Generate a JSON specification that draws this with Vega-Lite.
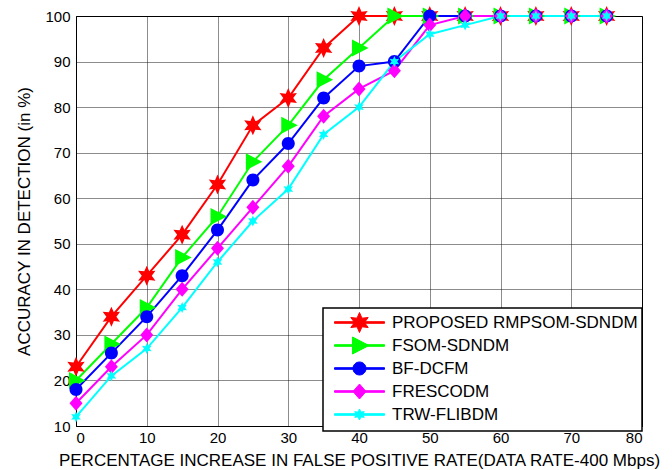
{
  "$schema": "https://vega.github.io/schema/vega-lite/v6.json",
  "width": 566,
  "height": 410,
  "autosize": {"type": "none"},
  "padding": {"left": 76, "top": 16, "right": 30, "bottom": 44},
  "background": "white",
  "config": {
    "font": "Liberation Sans",
    "view": {"stroke": "black", "strokeWidth": 1},
    "legend": {"strokeWidth": 1.5},
    "axis": {
      "labelFont": "Liberation Sans",
      "titleFont": "Liberation Sans",
      "labelFontSize": 15,
      "titleFontSize": 17,
      "titleFontWeight": "normal",
      "labelColor": "black",
      "titleColor": "black",
      "domainColor": "black",
      "domainWidth": 1,
      "ticks": false,
      "gridColor": "#000000",
      "gridOpacity": 0.45,
      "gridWidth": 1
    }
  },
  "data": {
    "values": [
      {"x": 0, "y": 23, "s": "PROPOSED RMPSOM-SDNDM"},
      {"x": 5, "y": 34, "s": "PROPOSED RMPSOM-SDNDM"},
      {"x": 10, "y": 43, "s": "PROPOSED RMPSOM-SDNDM"},
      {"x": 15, "y": 52, "s": "PROPOSED RMPSOM-SDNDM"},
      {"x": 20, "y": 63, "s": "PROPOSED RMPSOM-SDNDM"},
      {"x": 25, "y": 76, "s": "PROPOSED RMPSOM-SDNDM"},
      {"x": 30, "y": 82, "s": "PROPOSED RMPSOM-SDNDM"},
      {"x": 35, "y": 93, "s": "PROPOSED RMPSOM-SDNDM"},
      {"x": 40, "y": 100, "s": "PROPOSED RMPSOM-SDNDM"},
      {"x": 45, "y": 100, "s": "PROPOSED RMPSOM-SDNDM"},
      {"x": 50, "y": 100, "s": "PROPOSED RMPSOM-SDNDM"},
      {"x": 55, "y": 100, "s": "PROPOSED RMPSOM-SDNDM"},
      {"x": 60, "y": 100, "s": "PROPOSED RMPSOM-SDNDM"},
      {"x": 65, "y": 100, "s": "PROPOSED RMPSOM-SDNDM"},
      {"x": 70, "y": 100, "s": "PROPOSED RMPSOM-SDNDM"},
      {"x": 75, "y": 100, "s": "PROPOSED RMPSOM-SDNDM"},
      {"x": 0, "y": 20, "s": "FSOM-SDNDM"},
      {"x": 5, "y": 28, "s": "FSOM-SDNDM"},
      {"x": 10, "y": 36, "s": "FSOM-SDNDM"},
      {"x": 15, "y": 47, "s": "FSOM-SDNDM"},
      {"x": 20, "y": 56, "s": "FSOM-SDNDM"},
      {"x": 25, "y": 68, "s": "FSOM-SDNDM"},
      {"x": 30, "y": 76, "s": "FSOM-SDNDM"},
      {"x": 35, "y": 86, "s": "FSOM-SDNDM"},
      {"x": 40, "y": 93, "s": "FSOM-SDNDM"},
      {"x": 45, "y": 100, "s": "FSOM-SDNDM"},
      {"x": 50, "y": 100, "s": "FSOM-SDNDM"},
      {"x": 55, "y": 100, "s": "FSOM-SDNDM"},
      {"x": 60, "y": 100, "s": "FSOM-SDNDM"},
      {"x": 65, "y": 100, "s": "FSOM-SDNDM"},
      {"x": 70, "y": 100, "s": "FSOM-SDNDM"},
      {"x": 75, "y": 100, "s": "FSOM-SDNDM"},
      {"x": 0, "y": 18, "s": "BF-DCFM"},
      {"x": 5, "y": 26, "s": "BF-DCFM"},
      {"x": 10, "y": 34, "s": "BF-DCFM"},
      {"x": 15, "y": 43, "s": "BF-DCFM"},
      {"x": 20, "y": 53, "s": "BF-DCFM"},
      {"x": 25, "y": 64, "s": "BF-DCFM"},
      {"x": 30, "y": 72, "s": "BF-DCFM"},
      {"x": 35, "y": 82, "s": "BF-DCFM"},
      {"x": 40, "y": 89, "s": "BF-DCFM"},
      {"x": 45, "y": 90, "s": "BF-DCFM"},
      {"x": 50, "y": 100, "s": "BF-DCFM"},
      {"x": 55, "y": 100, "s": "BF-DCFM"},
      {"x": 60, "y": 100, "s": "BF-DCFM"},
      {"x": 65, "y": 100, "s": "BF-DCFM"},
      {"x": 70, "y": 100, "s": "BF-DCFM"},
      {"x": 75, "y": 100, "s": "BF-DCFM"},
      {"x": 0, "y": 15, "s": "FRESCODM"},
      {"x": 5, "y": 23, "s": "FRESCODM"},
      {"x": 10, "y": 30, "s": "FRESCODM"},
      {"x": 15, "y": 40, "s": "FRESCODM"},
      {"x": 20, "y": 49, "s": "FRESCODM"},
      {"x": 25, "y": 58, "s": "FRESCODM"},
      {"x": 30, "y": 67, "s": "FRESCODM"},
      {"x": 35, "y": 78, "s": "FRESCODM"},
      {"x": 40, "y": 84, "s": "FRESCODM"},
      {"x": 45, "y": 88, "s": "FRESCODM"},
      {"x": 50, "y": 98, "s": "FRESCODM"},
      {"x": 55, "y": 100, "s": "FRESCODM"},
      {"x": 60, "y": 100, "s": "FRESCODM"},
      {"x": 65, "y": 100, "s": "FRESCODM"},
      {"x": 70, "y": 100, "s": "FRESCODM"},
      {"x": 75, "y": 100, "s": "FRESCODM"},
      {"x": 0, "y": 12, "s": "TRW-FLIBDM"},
      {"x": 5, "y": 21, "s": "TRW-FLIBDM"},
      {"x": 10, "y": 27, "s": "TRW-FLIBDM"},
      {"x": 15, "y": 36, "s": "TRW-FLIBDM"},
      {"x": 20, "y": 46, "s": "TRW-FLIBDM"},
      {"x": 25, "y": 55, "s": "TRW-FLIBDM"},
      {"x": 30, "y": 62, "s": "TRW-FLIBDM"},
      {"x": 35, "y": 74, "s": "TRW-FLIBDM"},
      {"x": 40, "y": 80, "s": "TRW-FLIBDM"},
      {"x": 45, "y": 90, "s": "TRW-FLIBDM"},
      {"x": 50, "y": 96, "s": "TRW-FLIBDM"},
      {"x": 55, "y": 98, "s": "TRW-FLIBDM"},
      {"x": 60, "y": 100, "s": "TRW-FLIBDM"},
      {"x": 65, "y": 100, "s": "TRW-FLIBDM"},
      {"x": 70, "y": 100, "s": "TRW-FLIBDM"},
      {"x": 75, "y": 100, "s": "TRW-FLIBDM"}
    ]
  },
  "encoding": {
    "x": {
      "field": "x",
      "type": "quantitative",
      "scale": {"domain": [0, 80], "nice": false},
      "axis": {
        "values": [0, 10, 20, 30, 40, 50, 60, 70, 80],
        "title": "PERCENTAGE INCREASE IN FALSE POSITIVE RATE(DATA RATE-400 Mbps)",
        "labelPadding": 4,
        "titlePadding": 7
      }
    },
    "y": {
      "field": "y",
      "type": "quantitative",
      "scale": {"domain": [10, 100], "nice": false, "zero": false},
      "axis": {
        "values": [10, 20, 30, 40, 50, 60, 70, 80, 90, 100],
        "title": "ACCURACY IN DETECTION (in %)",
        "labelPadding": 6,
        "titlePadding": 11
      }
    },
    "color": {
      "field": "s",
      "type": "nominal",
      "scale": {
        "domain": ["PROPOSED RMPSOM-SDNDM", "FSOM-SDNDM", "BF-DCFM", "FRESCODM", "TRW-FLIBDM"],
        "range": ["#ff0000", "#00ff00", "#0000ff", "#ff00ff", "#00ffff"]
      },
      "legend": {
        "title": null,
        "orient": "none",
        "legendX": 247,
        "legendY": 292,
        "padding": 4,
        "symbolSize": 400,
        "symbolOffset": 22,
        "labelOffset": 22,
        "rowPadding": -2.5,
        "labelFont": "Liberation Sans",
        "labelFontSize": 17,
        "labelColor": "black",
        "labelLimit": 400,
        "strokeColor": "black",
        "fillColor": "white",
        "symbolStrokeWidth": 1
      }
    }
  },
  "layer": [
    {
      "mark": {"type": "line", "strokeWidth": 2}
    },
    {
      "transform": [{"filter": "false"}],
      "mark": {"type": "point", "filled": true, "opacity": 1},
      "encoding": {
        "shape": {
          "field": "s",
          "type": "nominal",
          "scale": {
            "domain": ["PROPOSED RMPSOM-SDNDM", "FSOM-SDNDM", "BF-DCFM", "FRESCODM", "TRW-FLIBDM"],
            "range": [
              "M-2.5,-0.08L2.5,-0.08L2.5,0.08L-2.5,0.08ZM0,-1L0.25,-0.43L0.87,-0.5L0.5,0L0.87,0.5L0.25,0.43L0,1L-0.25,0.43L-0.87,0.5L-0.5,0L-0.87,-0.5L-0.25,-0.43Z",
              "M-2.5,-0.08L2.5,-0.08L2.5,0.08L-2.5,0.08ZM-0.7,-0.85L0.95,0L-0.7,0.85ZM0,-1L0,-1M0,1L0,1",
              "M-2.5,-0.08L2.5,-0.08L2.5,0.08L-2.5,0.08ZM-0.65,0A0.65,0.65,0,1,1,0.65,0A0.65,0.65,0,1,1,-0.65,0ZM0,-1L0,-1M0,1L0,1",
              "M-2.5,-0.08L2.5,-0.08L2.5,0.08L-2.5,0.08ZM0,-0.75L0.65,0L0,0.75L-0.65,0ZM0,-1L0,-1M0,1L0,1",
              "M-2.5,-0.08L2.5,-0.08L2.5,0.08L-2.5,0.08ZM0,-0.55L0.14,-0.24L0.48,-0.28L0.28,0L0.48,0.28L0.14,0.24L0,0.55L-0.14,0.24L-0.48,0.28L-0.28,0L-0.48,-0.28L-0.14,-0.24ZM0,-1L0,-1M0,1L0,1"
            ]
          },
          "legend": null
        }
      }
    },
    {
      "transform": [{"filter": "datum.s === 'PROPOSED RMPSOM-SDNDM'"}],
      "mark": {"type": "point", "filled": true, "opacity": 1, "size": 400, "strokeWidth": 0, "shape": "M0,-1L0.25,-0.43L0.87,-0.5L0.5,0L0.87,0.5L0.25,0.43L0,1L-0.25,0.43L-0.87,0.5L-0.5,0L-0.87,-0.5L-0.25,-0.43Z"}
    },
    {
      "transform": [{"filter": "datum.s === 'FSOM-SDNDM'"}],
      "mark": {"type": "point", "filled": true, "opacity": 1, "size": 400, "strokeWidth": 0, "shape": "M-0.7,-0.85L0.95,0L-0.7,0.85Z"}
    },
    {
      "transform": [{"filter": "datum.s === 'BF-DCFM'"}],
      "mark": {"type": "point", "filled": true, "opacity": 1, "size": 400, "strokeWidth": 0, "shape": "M-0.65,0A0.65,0.65,0,1,1,0.65,0A0.65,0.65,0,1,1,-0.65,0Z"}
    },
    {
      "transform": [{"filter": "datum.s === 'FRESCODM'"}],
      "mark": {"type": "point", "filled": true, "opacity": 1, "size": 400, "strokeWidth": 0, "shape": "M0,-0.75L0.65,0L0,0.75L-0.65,0Z"}
    },
    {
      "transform": [{"filter": "datum.s === 'TRW-FLIBDM'"}],
      "mark": {"type": "point", "filled": true, "opacity": 1, "size": 400, "strokeWidth": 0, "shape": "M0,-0.55L0.14,-0.24L0.48,-0.28L0.28,0L0.48,0.28L0.14,0.24L0,0.55L-0.14,0.24L-0.48,0.28L-0.28,0L-0.48,-0.28L-0.14,-0.24Z"}
    }
  ]
}
